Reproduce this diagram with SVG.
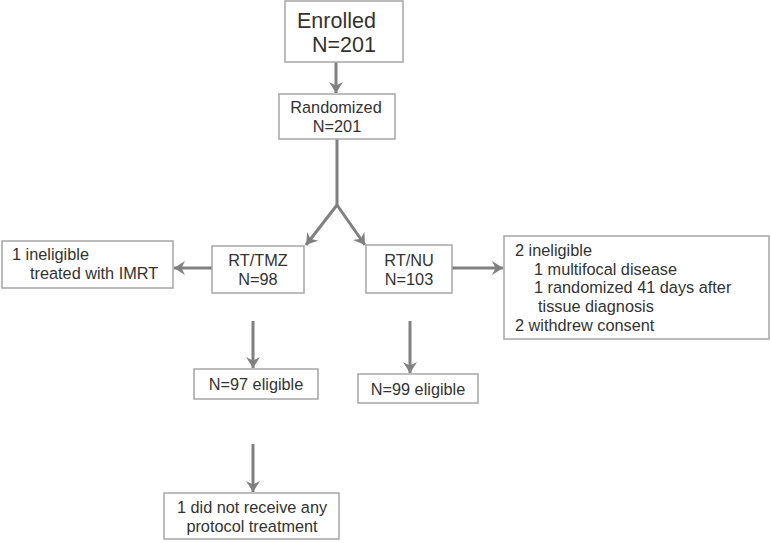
<svg xmlns="http://www.w3.org/2000/svg" width="771" height="543" viewBox="0 0 771 543">
<defs>
<style>
.box{fill:#fff;stroke:#a6a6a6;stroke-width:1.5}
.t{font-family:"Liberation Sans",Arial,sans-serif;font-size:16.3px;fill:#333}
.big{font-size:21.5px}
.c{text-anchor:middle}
.ln{stroke:#808080;stroke-width:3;fill:none}
</style>
<marker id="ah" markerUnits="userSpaceOnUse" markerWidth="14" markerHeight="16" refX="12" refY="8" orient="auto">
<path d="M1,1 L12,8 L1,15 L4.5,8 z" fill="#808080"/>
</marker>
</defs>
<rect width="771" height="543" fill="#fff"/>
<g id="connectors">
<line class="ln" x1="336" y1="62" x2="336" y2="93" marker-end="url(#ah)"/>
<polyline class="ln" points="337,139 337,205"/>
<line class="ln" x1="337" y1="205" x2="306" y2="245" marker-end="url(#ah)"/>
<line class="ln" x1="337" y1="205" x2="365" y2="245" marker-end="url(#ah)"/>
<line class="ln" x1="212" y1="268" x2="174" y2="268" marker-end="url(#ah)"/>
<line class="ln" x1="452" y1="268" x2="503" y2="268" marker-end="url(#ah)"/>
<line class="ln" x1="253" y1="321" x2="253" y2="368" marker-end="url(#ah)"/>
<line class="ln" x1="410" y1="321" x2="410" y2="373" marker-end="url(#ah)"/>
<line class="ln" x1="253" y1="444" x2="253" y2="492" marker-end="url(#ah)"/>
</g>
<g id="enrolled">
<rect class="box" x="285" y="1" width="118" height="61"/>
<text class="t big" x="297" y="28">Enrolled</text>
<text class="t big" x="312" y="52">N=201</text>
</g>
<g id="randomized">
<rect class="box" x="279" y="94" width="116" height="45"/>
<text class="t c" x="336" y="113">Randomized</text>
<text class="t c" x="337" y="132">N=201</text>
</g>
<g id="rttmz">
<rect class="box" x="212" y="246" width="92" height="47"/>
<text class="t c" x="258" y="266">RT/TMZ</text>
<text class="t c" x="258" y="285">N=98</text>
</g>
<g id="rtnu">
<rect class="box" x="366" y="245" width="86" height="48"/>
<text class="t c" x="409" y="266">RT/NU</text>
<text class="t c" x="409" y="285">N=103</text>
</g>
<g id="inelig-left">
<rect class="box" x="2" y="241" width="171" height="47"/>
<text class="t" x="12" y="260">1 ineligible</text>
<text class="t" x="30" y="279">treated with IMRT</text>
</g>
<g id="inelig-right">
<rect class="box" x="504" y="236" width="265" height="103"/>
<text class="t" x="515" y="256">2 ineligible</text>
<text class="t" x="534" y="275">1 multifocal disease</text>
<text class="t" x="534" y="293">1 randomized 41 days after</text>
<text class="t" x="538" y="312">tissue diagnosis</text>
<text class="t" x="515" y="331">2 withdrew consent</text>
</g>
<g id="elig97">
<rect class="box" x="194" y="369" width="124" height="30"/>
<text class="t c" x="256" y="390">N=97 eligible</text>
</g>
<g id="elig99">
<rect class="box" x="358" y="374" width="120" height="29"/>
<text class="t c" x="418" y="395">N=99 eligible</text>
</g>
<g id="noprotocol">
<rect class="box" x="164" y="493" width="175" height="46"/>
<text class="t c" x="252" y="513">1 did not receive any</text>
<text class="t c" x="252" y="532">protocol treatment</text>
</g>
</svg>
